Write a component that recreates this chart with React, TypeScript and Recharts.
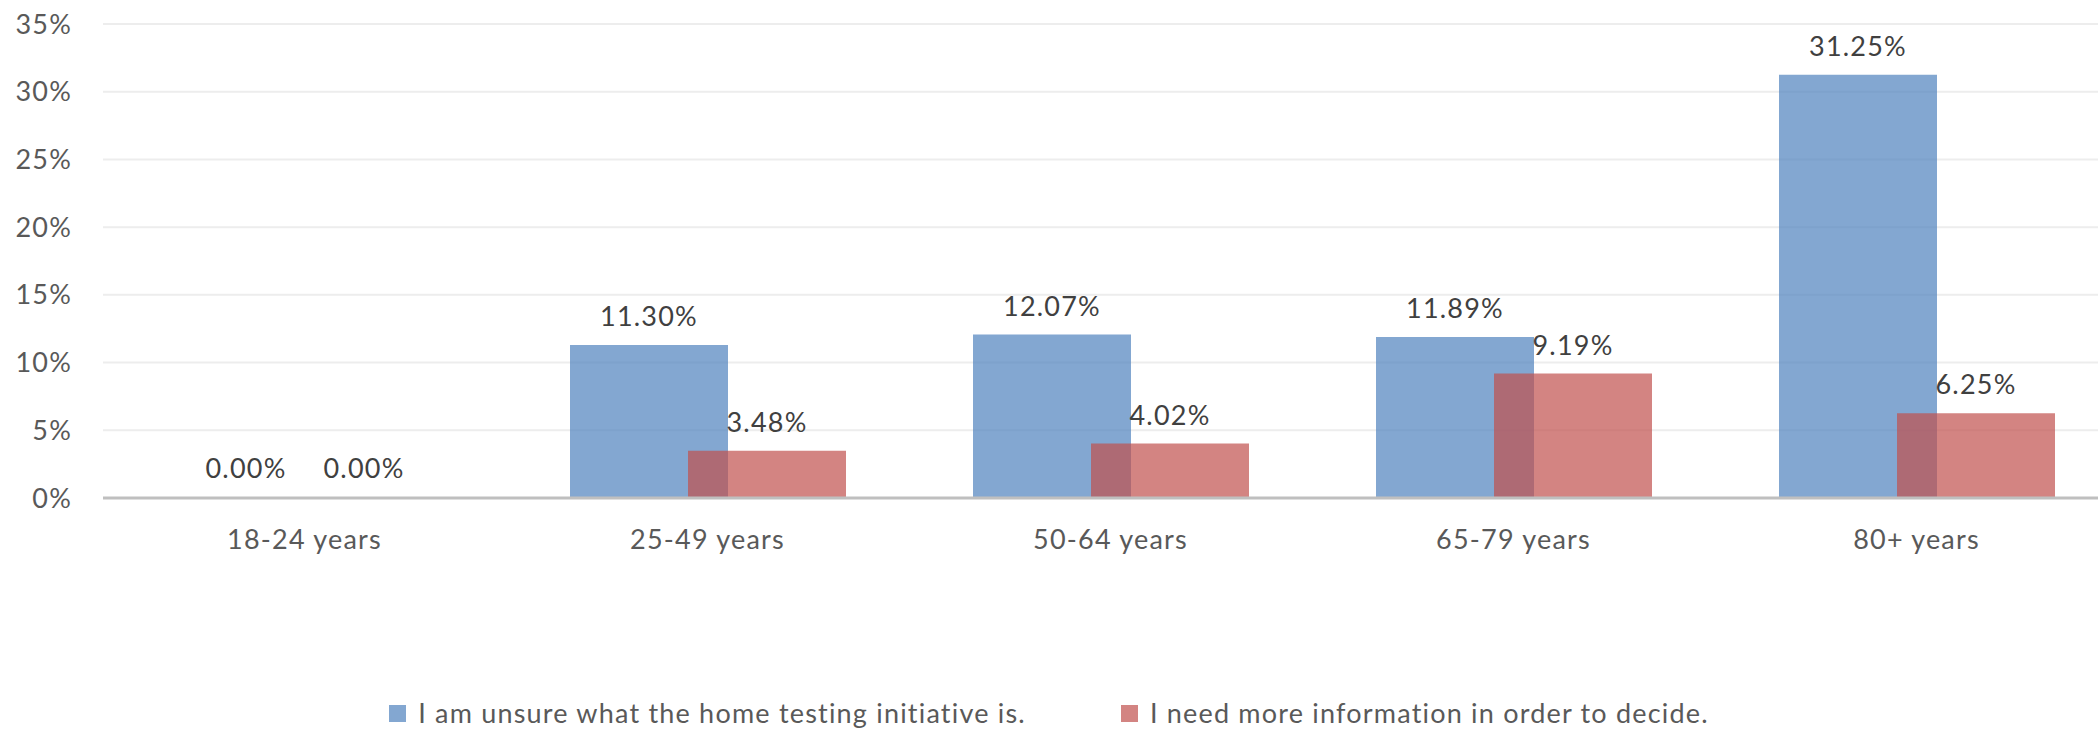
import React from "react";
import {
  Bar,
  BarChart,
  CartesianGrid,
  LabelList,
  Legend,
  XAxis,
  YAxis
} from "recharts";

const ageGroups = ["18-24 years", "25-49 years", "50-64 years", "65-79 years", "80+ years"];
const unsureValues = [0, 11.3, 12.07, 11.89, 31.25];
const needInfoValues = [0, 3.48, 4.02, 9.19, 6.25];
const seriesNames = [
  "I am unsure what the home testing initiative is.",
  "I need more information in order to decide."
];
const yTicks = [0, 5, 10, 15, 20, 25, 30, 35];

const FONT = "Lato, 'Open Sans', sans-serif";
const SPACING = 1.2;

type LegendItem = { value?: string; color?: string };

function renderLegend(props: { payload?: LegendItem[] }) {
  const items = props.payload || [];
  return (
    <div
      style={{
        display: "flex",
        justifyContent: "center",
        alignItems: "center",
        height: 30,
        fontFamily: FONT,
        fontSize: 27,
        letterSpacing: SPACING,
        color: "#595959"
      }}
    >
      {items.map((item, i) => (
        <div
          key={item.value}
          style={{
            display: "flex",
            alignItems: "center",
            marginRight: i < items.length - 1 ? 95 : 0
          }}
        >
          <span
            style={{
              width: 17,
              height: 17,
              background: item.color,
              opacity: 0.7,
              marginRight: 12,
              display: "inline-block"
            }}
          />
          <span style={{ lineHeight: "30px" }}>{item.value}</span>
        </div>
      ))}
    </div>
  );
}

export default function App() {
  const chartData = ageGroups.map((group, i) => ({
    group,
    unsure: unsureValues[i],
    needInfo: needInfoValues[i]
  }));

  const labelFormat = (v: unknown) => `${Number(v).toFixed(2)}%`;
  const labelStyle = {
    fontSize: 27,
    fill: "#404040",
    fontFamily: FONT,
    letterSpacing: SPACING
  };
  const tickStyle = {
    fontSize: 27,
    fill: "#595959",
    fontFamily: FONT,
    letterSpacing: SPACING
  };
  // zero bars get 1px so their labels still show (hidden under the axis line)
  const minSize = (v: unknown) => (Number(v) === 0 ? 1 : 0);

  return (
    <div
      style={{
        position: "fixed",
        left: 0,
        top: 0,
        width: 2098,
        height: 730,
        overflow: "hidden",
        background: "#ffffff"
      }}
    >
      <BarChart
        width={2118}
        height={730}
        data={chartData}
        barSize={158}
        barGap={-40}
        margin={{ top: 24, right: 0, left: 0, bottom: 172 }}
        style={{ fontFamily: FONT }}
      >
        <CartesianGrid vertical={false} stroke="#EDEDED" strokeWidth={2} />

        <YAxis
          width={103}
          domain={[0, 35]}
          ticks={yTicks}
          tickFormatter={(v) => `${v}%`}
          tickLine={false}
          axisLine={false}
          tickMargin={25}
          tick={tickStyle}
        />

        <Legend
          layout="horizontal"
          verticalAlign="middle"
          align="center"
          wrapperStyle={{ top: 698, left: 0, width: 2098 }}
          content={renderLegend}
        />

        <Bar
          dataKey="unsure"
          name={seriesNames[0]}
          fill="#4F81BD"
          fillOpacity={0.7}
          minPointSize={minSize}
          isAnimationActive={false}
        >
          <LabelList
            dataKey="unsure"
            position="top"
            offset={19}
            formatter={labelFormat}
            style={labelStyle}
          />
        </Bar>
        <Bar
          dataKey="needInfo"
          name={seriesNames[1]}
          fill="#C0504D"
          fillOpacity={0.7}
          minPointSize={minSize}
          isAnimationActive={false}
        >
          <LabelList
            dataKey="needInfo"
            position="top"
            offset={19}
            formatter={labelFormat}
            style={labelStyle}
          />
        </Bar>

        <XAxis
          dataKey="group"
          height={60}
          tickLine={false}
          tickMargin={26}
          axisLine={{ stroke: "#BFBFBF", strokeWidth: 3 }}
          tick={tickStyle}
          interval={0}
        />
      </BarChart>
    </div>
  );
}
